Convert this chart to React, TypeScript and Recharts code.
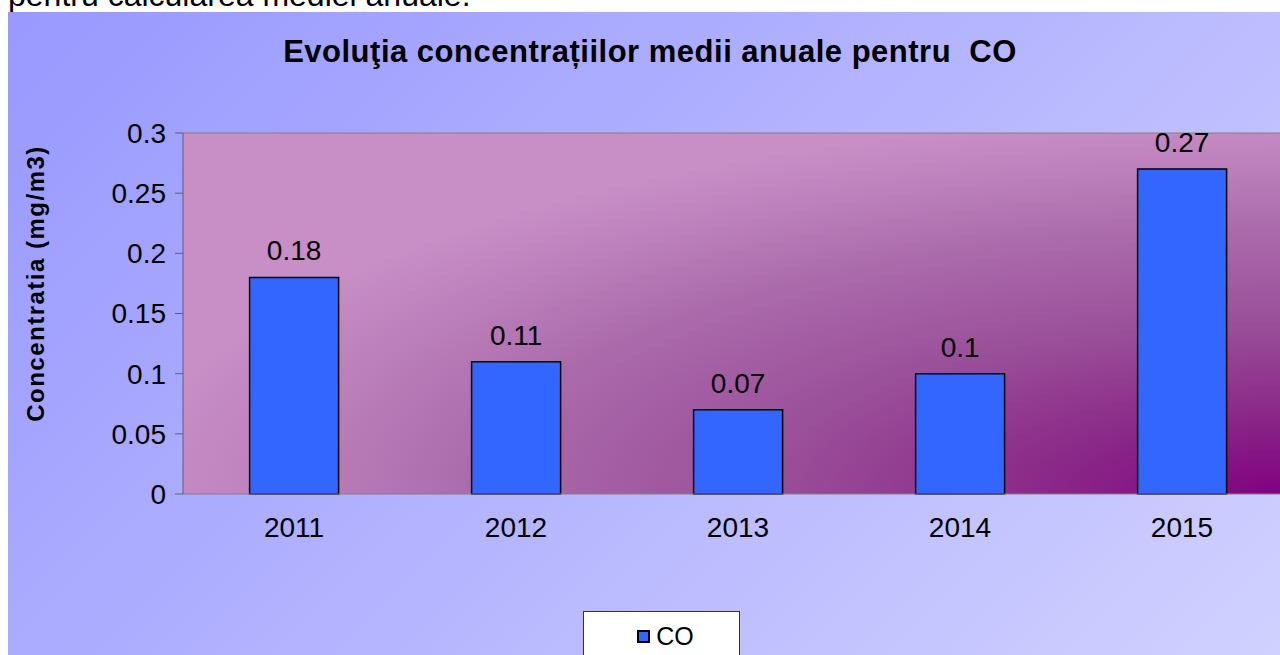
import {
  BarChart,
  Bar,
  XAxis,
  YAxis,
  CartesianGrid,
  LabelList,
  Legend,
  ReferenceLine
} from 'recharts';

// values
const years = ['2011', '2012', '2013', '2014', '2015'];
const coValues = [0.18, 0.11, 0.07, 0.1, 0.27];
const yTicks = [0, 0.05, 0.1, 0.15, 0.2, 0.25, 0.3];
// category boundaries, used for the tick marks between years
const edgeTicks = [0, 1, 2, 3, 4, 5];

const chartData = years.map((year, i) => ({ year, co: coValues[i] }));

const FONT = '"Liberation Sans", Arial, sans-serif';

function YTitle(props: any) {
  const { viewBox } = props;
  const x = viewBox.x + 27;
  const y = viewBox.y + viewBox.height / 2 - 30;
  return (
    <text
      x={x}
      y={y}
      transform={`rotate(-90 ${x} ${y})`}
      textAnchor="middle"
      dominantBaseline="central"
      fontSize={24}
      fontWeight="bold"
      letterSpacing={1.5}
      fill="#000"
    >
      Concentratia (mg/m3)
    </text>
  );
}

function LegendBox(props: any) {
  const { payload } = props;
  return (
    <div style={{
      width: 157,
      height: 51,
      boxSizing: 'border-box',
      background: '#fff',
      border: '1px solid #333',
      display: 'flex',
      alignItems: 'center',
      justifyContent: 'center',
      paddingLeft: 8
    }}>
      {(payload || []).map((entry: any) => (
        <span key={entry.value} style={{ display: 'flex', alignItems: 'center', gap: 6 }}>
          <span style={{
            display: 'inline-block',
            width: 9,
            height: 9,
            background: entry.color,
            border: '2px solid #000'
          }} />
          <span style={{ fontSize: 25, color: '#000', lineHeight: 1 }}>{entry.value}</span>
        </span>
      ))}
    </div>
  );
}

export default function App() {
  return (
    <div style={{
      position: 'absolute',
      left: 0,
      top: 0,
      width: 1280,
      height: 655,
      overflow: 'hidden',
      background: '#fff',
      fontFamily: FONT
    }}>
      {/* text of the document above the chart, mostly cut off */}
      <div style={{
        position: 'absolute',
        left: 8,
        top: -21,
        fontSize: 32,
        lineHeight: 1,
        color: '#000',
        whiteSpace: 'nowrap'
      }}>
        pentru calcularea mediei anuale.
      </div>

      <div style={{
        position: 'absolute',
        left: 8,
        top: 12,
        width: 1292,
        height: 660,
        background: 'linear-gradient(135deg, #9898ff 0%, #b4b4ff 50%, #d2d2ff 100%)'
      }}>
        <div style={{
          position: 'absolute',
          left: 0,
          top: 24,
          width: 1284,
          textAlign: 'center',
          fontSize: 31,
          fontWeight: 'bold',
          letterSpacing: 0.5,
          lineHeight: 1,
          color: '#000',
          whiteSpace: 'pre'
        }}>
          {'Evoluţia concentrațiilor medii anuale pentru  CO'}
        </div>

        <BarChart
          width={1300}
          height={650}
          data={chartData}
          margin={{ top: 121, right: 15, bottom: 108, left: 0 }}
          barCategoryGap="30%"
        >
          <defs>
            <radialGradient id="plotFill" cx="1" cy="1" r="1.05" fx="1" fy="1">
              <stop offset="0" stopColor="#800080" />
              <stop offset="0.22" stopColor="#8a2a88" />
              <stop offset="0.45" stopColor="#9a4f99" />
              <stop offset="0.7" stopColor="#ab6bab" />
              <stop offset="0.88" stopColor="#bd82bd" />
              <stop offset="1" stopColor="#c88ec6" />
            </radialGradient>
          </defs>
          <CartesianGrid horizontal={false} vertical={false} fill="url(#plotFill)" stroke="none" />
          <XAxis
            xAxisId="edge"
            type="number"
            domain={[0, 5]}
            ticks={edgeTicks}
            height={0}
            tickSize={8}
            tickFormatter={() => ''}
            axisLine={false}
            stroke="#505050"
          />
          <XAxis
            dataKey="year"
            tickLine={false}
            tickSize={8}
            tickMargin={15}
            height={60}
            interval={0}
            tick={{ fill: '#000', fontSize: 28 }}
            stroke="#808080"
          />
          <YAxis
            domain={[0, 0.3]}
            ticks={yTicks}
            interval={0}
            width={175}
            tickSize={8}
            tickMargin={9}
            tick={{ fill: '#000', fontSize: 28 }}
            stroke="#606060"
            label={<YTitle />}
          />
          <ReferenceLine y={0.3} stroke="#808080" />
          <Legend
            verticalAlign="middle"
            align="center"
            content={<LegendBox />}
            wrapperStyle={{ left: 575, top: 599, width: 157 }}
          />
          <Bar
            dataKey="co"
            name="CO"
            fill="#3366ff"
            stroke="#000"
            strokeWidth={1.5}
            isAnimationActive={false}
          >
            <LabelList dataKey="co" position="top" offset={17} fill="#000" fontSize={28} />
          </Bar>
        </BarChart>
      </div>
    </div>
  );
}
